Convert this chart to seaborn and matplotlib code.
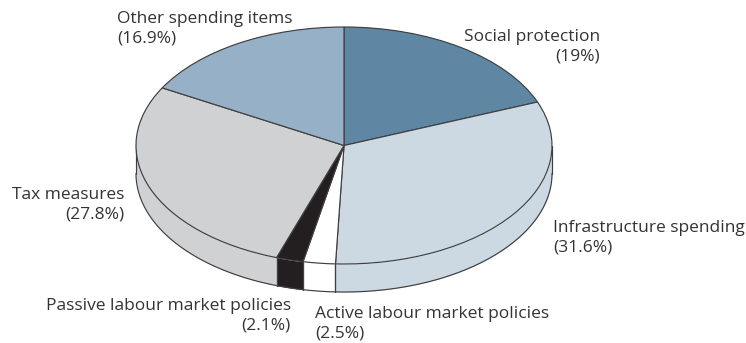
import numpy as np
import matplotlib
matplotlib.use("Agg")
import matplotlib.pyplot as plt
import seaborn as sns

labels = ["Social protection", "Infrastructure spending", "Active labour market policies",
          "Passive labour market policies", "Tax measures", "Other spending items"]
shares = [19, 31.6, 2.5, 2.1, 27.8, 16.9]
colors = ["#5f87a3", "#ccd9e3", "#ffffff", "#231f20", "#cfd1d3", "#96b1c7"]

W, H = 746, 343
CX, CY, RX, RY, DEPTH = 344, 145.5, 208, 118.5, 28
EDGE = "#3f3f41"
TEXT = "#333333"

sns.set_theme(style="white")
plt.rcParams["font.family"] = ["Open Sans", "DejaVu Sans"]

fig = plt.figure(figsize=(W / 100, H / 100), dpi=100)
ax = fig.add_axes([0, 0, 1, 1])


# Rim of the disc: one band per slice, only where the slice faces the viewer
def rim(theta_from, theta_to, color):
    lo, hi = max(theta_from, 180), min(theta_to, 360)
    if lo >= hi:
        return
    t = np.radians(np.linspace(lo, hi, 120))
    x, y = np.cos(t), np.sin(t)
    drop = DEPTH / RY
    ax.fill_between(x, y, y - drop, color=color, lw=0, zorder=1)
    ax.plot(x, y - drop, color=EDGE, lw=0.85, zorder=2)
    for end in (0, -1):
        ax.plot([x[end], x[end]], [y[end], y[end] - drop], color=EDGE, lw=0.85, zorder=2)


# Slices run clockwise from twelve o'clock
total = sum(shares)
end = 90.0
for value, color in zip(shares, colors):
    start = end - 360 * value / total
    for shift in (0, 360):
        rim(start + shift, end + shift, color)
    end = start

wedges, _ = ax.pie(shares, colors=colors, startangle=90, counterclock=False, radius=1,
                   wedgeprops={"edgecolor": EDGE, "linewidth": 0.85, "zorder": 3}, frame=True)
ax.set_aspect("auto")
ax.set_xlim(-CX / RX, (W - CX) / RX)
ax.set_ylim((CY - H) / RY, CY / RY)
ax.axis("off")


# Labels are placed in figure pixels
def note(px, py, name, share, ha):
    ax.text(px / W, 1 - py / H, f"{name}\n({share}%)", transform=ax.transAxes, ha=ha, va="top",
            fontsize=12.5, color=TEXT, linespacing=1.33)


note(600, 29, labels[0], shares[0], "right")
note(553, 219.5, labels[1], shares[1], "left")
note(315, 306, labels[2], shares[2], "left")
note(291, 298, labels[3], shares[3], "right")
note(124, 187, labels[4], shares[4], "right")
note(117, 11, labels[5], shares[5], "left")

fig.savefig("out.png", dpi=100)
